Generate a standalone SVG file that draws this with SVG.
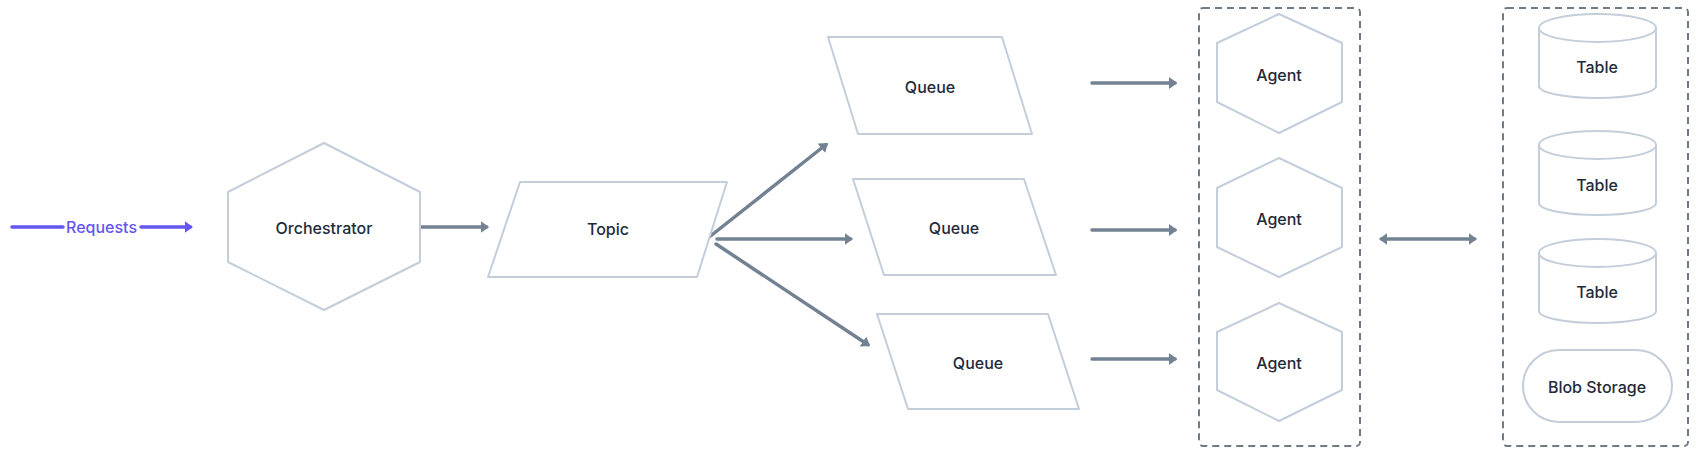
<svg xmlns="http://www.w3.org/2000/svg" width="1696" height="454" viewBox="0 0 1696 454">
<style>
.node{fill:#ffffff;stroke:#c3ceda;stroke-width:2;stroke-linejoin:round}
.lbl{font-family:Inter,"Liberation Sans",sans-serif;font-size:16px;font-weight:500;fill:#1f2b3a;text-anchor:middle}
.edge{stroke:#738292;stroke-width:3.5;fill:none;stroke-linecap:round}
.group{fill:none;stroke:#6f7b88;stroke-width:2;stroke-dasharray:7 5}
</style>
<defs>
<marker id="ah" viewBox="0 0 7 10" refX="5" refY="5" markerWidth="2.4" markerHeight="3.6" orient="auto-start-reverse" markerUnits="strokeWidth">
<path d="M0,0 L7,5 L0,10 z" fill="#738292"/>
</marker>
<marker id="ahp" viewBox="0 0 7 10" refX="5" refY="5" markerWidth="2.4" markerHeight="3.6" orient="auto" markerUnits="strokeWidth">
<path d="M0,0 L7,5 L0,10 z" fill="#6556f2"/>
</marker>
</defs>
<rect width="1696" height="454" fill="#ffffff"/>

<g id="group-agents"><rect class="group" x="1199" y="8" width="161" height="438" rx="4"/></g>
<g id="group-storage"><rect class="group" x="1503" y="8" width="185" height="438" rx="4"/></g>

<g id="connectors">
<line x1="12" y1="227" x2="63" y2="227" stroke="#6556f2" stroke-width="3.5" stroke-linecap="round"/>
<text x="101.5" y="233" class="lbl" style="fill:#6556f2;font-weight:500">Requests</text>
<line x1="141" y1="227" x2="190.5" y2="227" stroke="#6556f2" stroke-width="3.5" stroke-linecap="round" marker-end="url(#ahp)"/>
<line class="edge" x1="420" y1="227" x2="486.6" y2="227" marker-end="url(#ah)"/>
<line class="edge" x1="708" y1="238" x2="826.1" y2="144.5" marker-end="url(#ah)"/>
<line class="edge" x1="717" y1="239" x2="850.6" y2="239" marker-end="url(#ah)"/>
<line class="edge" x1="716" y1="244" x2="868" y2="344.7" marker-end="url(#ah)"/>
<line class="edge" x1="1092" y1="83" x2="1175" y2="83" marker-end="url(#ah)"/>
<line class="edge" x1="1092" y1="230" x2="1175" y2="230" marker-end="url(#ah)"/>
<line class="edge" x1="1092" y1="359" x2="1175" y2="359" marker-end="url(#ah)"/>
<line class="edge" x1="1381.4" y1="239" x2="1474.6" y2="239" marker-start="url(#ah)" marker-end="url(#ah)"/>
</g>

<g id="orchestrator">
<polygon class="node" points="324,143 420,192 420,262 324,310 228,262 228,192"/>
<text class="lbl" x="324" y="234">Orchestrator</text>
</g>
<g id="topic">
<polygon class="node" points="520,182 727,182 697,277 488,277"/>
<text class="lbl" x="608" y="235">Topic</text>
</g>
<g id="queue1">
<polygon class="node" points="828,37 1002,37 1032,134 858,134"/>
<text class="lbl" x="930" y="93">Queue</text>
</g>
<g id="queue2">
<polygon class="node" points="853,179 1024,179 1056,275 884,275"/>
<text class="lbl" x="954" y="234">Queue</text>
</g>
<g id="queue3">
<polygon class="node" points="877,314 1048,314 1079,409 908,409"/>
<text class="lbl" x="978" y="369">Queue</text>
</g>
<g id="agent1">
<polygon class="node" points="1279,14 1342,43 1342,102 1279,133 1217,102 1217,43"/>
<text class="lbl" x="1279" y="81">Agent</text>
</g>
<g id="agent2">
<polygon class="node" points="1279,158 1342,188 1342,247 1279,277 1217,247 1217,188"/>
<text class="lbl" x="1279" y="225">Agent</text>
</g>
<g id="agent3">
<polygon class="node" points="1279,303 1342,332 1342,390 1279,421 1217,390 1217,332"/>
<text class="lbl" x="1279" y="369">Agent</text>
</g>
<g id="table1">
<path class="node" d="M1539,28 A58.5,14 0 0 1 1656,28 L1656,86 A58.5,12 0 0 1 1539,86 Z"/>
<path class="node" style="fill:none" d="M1539,28 A58.5,14 0 0 0 1656,28"/>
<text class="lbl" x="1597" y="73">Table</text>
</g>
<g id="table2">
<path class="node" d="M1539,145 A58.5,14 0 0 1 1656,145 L1656,203 A58.5,12 0 0 1 1539,203 Z"/>
<path class="node" style="fill:none" d="M1539,145 A58.5,14 0 0 0 1656,145"/>
<text class="lbl" x="1597" y="191">Table</text>
</g>
<g id="table3">
<path class="node" d="M1539,253 A58.5,14 0 0 1 1656,253 L1656,311 A58.5,12 0 0 1 1539,311 Z"/>
<path class="node" style="fill:none" d="M1539,253 A58.5,14 0 0 0 1656,253"/>
<text class="lbl" x="1597" y="298">Table</text>
</g>
<g id="blob-storage">
<rect class="node" x="1523" y="350" width="149" height="72" rx="36"/>
<text class="lbl" x="1597" y="393">Blob Storage</text>
</g>
</svg>
